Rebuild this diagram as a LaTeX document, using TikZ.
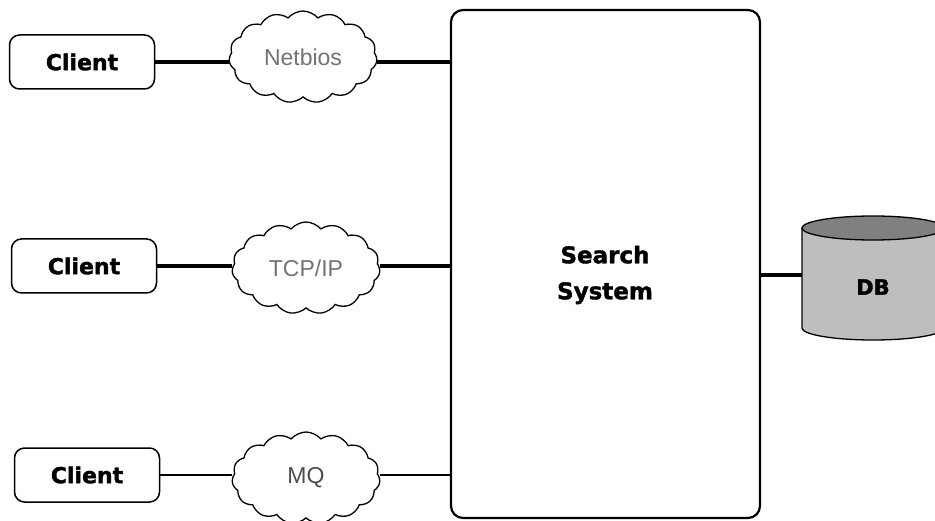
\documentclass[tikz,border=0pt]{standalone}
\usepackage{fontspec}
\setmainfont{Liberation Sans}
\newfontfamily\heavy{DejaVu Sans}[BoldFeatures={FakeBold=1.6}]
\usetikzlibrary{shapes.symbols}
\definecolor{dbbody}{RGB}{190,190,190}
\definecolor{dbtop}{RGB}{128,128,128}
\begin{document}
\begin{tikzpicture}[x=1pt,y=-1pt,
  client/.style={draw, line width=1.5pt, rounded corners=10pt, minimum width=145pt, minimum height=54pt,
    font=\heavy\bfseries\fontsize{22}{26}\selectfont},
  net/.style={cloud, draw, line width=1.3pt, cloud puffs=15, cloud puff arc=100, cloud ignores aspect,
    minimum width=148pt, minimum height=92pt, inner sep=0pt, text=black!55,
    font=\fontsize{23}{27}\selectfont},
  link/.style={line width=3.2pt},
  thinlink/.style={line width=2pt},
  bold/.style={font=\heavy\bfseries\fontsize{23}{36}\selectfont, align=center}]
\useasboundingbox (0,0) rectangle (935,521);

% search system box
\node[draw, line width=2.2pt, rounded corners=12pt, minimum width=309pt, minimum height=508pt] (ss) at (605.5,264) {};
\node[bold] (sst) at (605,275) {Search\\System};

% clients
\node[client] (c1) at (82,62) {Client};
\node[client] (c2) at (84,266) {Client};
\node[client] (c3) at (87,475) {Client};

% clouds
\node[net] (n1) at (303,57) {Netbios};
\node[net] (n2) at (306,268) {TCP/IP};
\node[net, text=black!70] (n3) at (306,478) {MQ};

% links
\draw[link] (c1.east) -- (c1.east -| n1.west);
\draw[link] (n1.east |- c1.east) -- (ss.west |- c1.east);
\draw[link] (c2.east) -- (c2.east -| n2.west);
\draw[link] (n2.east |- c2.east) -- (ss.west |- c2.east);
\draw[thinlink] (c3.east) -- (c3.east -| n3.west);
\draw[thinlink] (n3.east |- c3.east) -- (ss.west |- c3.east);

% database cylinder
\filldraw[fill=dbbody, draw=black, line width=1.3pt]
  (802,228) -- (802,328) arc[start angle=180, end angle=0, x radius=71, y radius=12] -- (944,228) -- cycle;
\filldraw[fill=dbtop, draw=black, line width=1.3pt] (873,228) ellipse [x radius=71, y radius=12];
\node[font=\heavy\bfseries\fontsize{21}{25}\selectfont, minimum width=142pt, minimum height=90pt] (db) at (873,287) {DB};
\draw[link] ([yshift=12pt]db.west) -- ([yshift=12pt]db.west -| ss.east);
\end{tikzpicture}
\end{document}
